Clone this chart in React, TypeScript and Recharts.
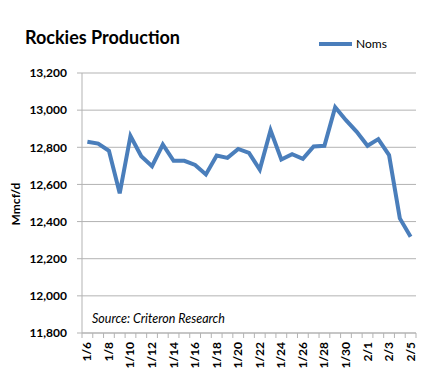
import { CartesianGrid, Line, LineChart, XAxis, YAxis, Legend } from "recharts";

const dates = [
  "1/6", "1/7", "1/8", "1/9", "1/10", "1/11", "1/12", "1/13", "1/14", "1/15",
  "1/16", "1/17", "1/18", "1/19", "1/20", "1/21", "1/22", "1/23", "1/24", "1/25",
  "1/26", "1/27", "1/28", "1/29", "1/30", "1/31", "2/1", "2/2", "2/3", "2/4", "2/5",
];
const noms = [
  12830, 12820, 12781, 12552, 12861, 12752, 12698, 12815, 12727, 12727,
  12705, 12654, 12756, 12743, 12791, 12770, 12680, 12892, 12734, 12763,
  12738, 12804, 12808, 13016, 12946, 12883, 12808, 12844, 12758, 12417, 12318,
];
const yTicks = [11800, 12000, 12200, 12400, 12600, 12800, 13000, 13200];

const data = dates.map((date, i) => ({ date, noms: noms[i] }));

const W = 435;
const H = 373;
const LEFT = 82;
const RIGHT = 19;
const STEP = (W - LEFT - RIGHT) / dates.length;
const FONT = "Lato, 'Liberation Sans', sans-serif";
const GRID = "#b3b3b3";
const BLUE = "#4a7ebb";

const DateTick = (props: any) => {
  const { x, y, payload, index } = props;
  const half = STEP / 2;
  return (
    <g>
      <line x1={x - half} x2={x - half} y1={y} y2={y + 5} stroke={GRID} />
      {index === dates.length - 1 && (
        <line x1={x + half} x2={x + half} y1={y} y2={y + 5} stroke={GRID} />
      )}
      {index % 2 === 0 && (
        <text
          transform={`translate(${x + 4},${y + 9}) rotate(-90)`}
          textAnchor="end"
          fontFamily={FONT}
          fontWeight="bold"
          fontSize={12}
          fill="#000"
        >
          {payload.value}
        </text>
      )}
    </g>
  );
};

const LegendBox = () => (
  <div style={{ display: "flex", alignItems: "center", fontFamily: FONT, fontSize: 12 }}>
    <svg width={36} height={8}>
      <line x1={1} x2={34} y1={4} y2={4} stroke={BLUE} strokeWidth={4} />
    </svg>
    <span style={{ marginLeft: 2 }}>Noms</span>
  </div>
);

export default function App() {
  return (
    <div style={{ position: "absolute", left: 0, top: 0, width: W, height: H, background: "#fff" }}>
      <div
        style={{
          position: "absolute", left: 25, top: 27, fontFamily: FONT,
          fontWeight: "bold", fontSize: 18, lineHeight: "20px", color: "#000",
        }}
      >
        Rockies Production
      </div>
      <div
        style={{
          position: "absolute", left: 4, top: 204, width: 22, height: 0,
          fontFamily: FONT, fontWeight: "bold", fontSize: 12,
        }}
      >
        <div style={{ position: "absolute", left: 11, top: 0, transform: "translate(-50%,-50%) rotate(-90deg)", whiteSpace: "nowrap" }}>
          Mmcf/d
        </div>
      </div>
      <LineChart
        width={W}
        height={H}
        data={data}
        margin={{ top: 73, right: RIGHT, left: 0, bottom: 0 }}
      >
        <CartesianGrid horizontal vertical={false} stroke={GRID} strokeWidth={1} />
        <XAxis
          dataKey="date"
          interval={0}
          height={40}
          padding={{ left: STEP / 2, right: STEP / 2 }}
          tickLine={false}
          tickSize={0}
          tickMargin={0}
          axisLine={{ stroke: GRID }}
          tick={<DateTick />}
        />
        <YAxis
          width={LEFT}
          domain={[11800, 13200]}
          ticks={yTicks}
          interval={0}
          tickSize={5}
          tickMargin={10}
          tickLine={{ stroke: GRID }}
          axisLine={{ stroke: GRID }}
          tickFormatter={(v: number) => v.toLocaleString("en-US")}
          tick={{ fontFamily: FONT, fontWeight: "bold", fontSize: 12, fill: "#000" }}
        />
        <Legend
          verticalAlign="middle"
          align="center"
          content={<LegendBox />}
          wrapperStyle={{ top: 36, left: 318, width: 80, height: 16 }}
        />
        <Line
          type="linear"
          dataKey="noms"
          stroke={BLUE}
          strokeWidth={4}
          dot={false}
          isAnimationActive={false}
        />
      </LineChart>
      <div
        style={{
          position: "absolute", left: 92, top: 311, fontFamily: FONT,
          fontStyle: "italic", fontSize: 12.5, lineHeight: "16px", color: "#000",
        }}
      >
        Source: Criteron Research
      </div>
    </div>
  );
}
